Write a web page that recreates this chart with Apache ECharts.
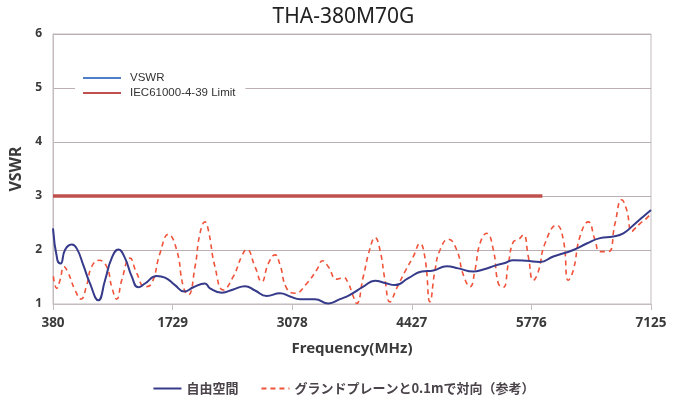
<!DOCTYPE html>
<html><head><meta charset="utf-8">
<script src="https://cdn.jsdelivr.net/npm/echarts@6/dist/echarts.min.js"></script>
<style>html,body{margin:0;padding:0;background:#fff}#c{width:687px;height:406px}</style>
</head><body><div id="c"></div>
<script>
var xTicks = [380, 1729, 3078, 4427, 5776, 7125];
var freeFreq = [380,430,467,515,591,647,722,797,891,967,1042,1117,1192,1268,1342,1418,1550,1643,1756,1861,1963,2094,2151,2283,2414,2546,2659,2790,2941,3053,3166,3335,3485,3617,3730,3880,4012,4125,4238,4388,4539,4670,4821,4952,5121,5233,5384,5479,5572,5723,5873,6023,6249,6399,6550,6700,6813,6926,7039,7125];
var freeVswr = [2.40,1.81,1.75,2.00,2.10,2.03,1.72,1.38,1.07,1.44,1.85,2.01,1.85,1.51,1.31,1.38,1.52,1.49,1.35,1.23,1.31,1.38,1.29,1.21,1.27,1.33,1.25,1.15,1.20,1.14,1.09,1.09,1.01,1.09,1.17,1.32,1.43,1.39,1.35,1.48,1.60,1.62,1.70,1.66,1.60,1.64,1.72,1.76,1.81,1.80,1.78,1.88,2.00,2.12,2.22,2.25,2.31,2.46,2.62,2.74];
var gpFreq = [384,422,459,504,553,628,696,760,816,899,986,1042,1099,1155,1249,1324,1418,1493,1587,1681,1775,1850,1906,1982,2038,2094,2132,2207,2301,2414,2508,2565,2659,2734,2809,2884,2941,3016,3110,3242,3354,3422,3485,3580,3655,3711,3767,3805,3880,3956,4012,4068,4125,4181,4256,4350,4444,4519,4576,4632,4689,4745,4839,4934,5008,5084,5140,5196,5272,5347,5403,5459,5516,5572,5628,5685,5741,5798,5854,5929,6061,6136,6192,6249,6324,6418,6493,6550,6644,6719,6794,6851,6907,6945,7001,7077,7125];
var gpVswr = [1.51,1.29,1.44,1.69,1.57,1.26,1.09,1.35,1.69,1.81,1.69,1.32,1.09,1.44,1.85,1.57,1.32,1.38,1.94,2.29,2.00,1.32,1.17,1.69,2.31,2.52,2.37,1.69,1.26,1.51,1.88,2.01,1.69,1.41,1.75,1.91,1.72,1.29,1.20,1.38,1.63,1.80,1.69,1.46,1.49,1.38,1.14,1.01,1.51,2.03,2.23,2.00,1.44,1.04,1.29,1.60,1.88,2.12,1.85,1.04,1.63,2.00,2.20,2.00,1.54,1.32,1.63,2.12,2.31,2.00,1.38,1.31,1.75,2.15,2.19,2.28,1.88,1.44,1.60,2.12,2.46,2.19,1.44,1.63,2.25,2.52,2.19,1.97,1.97,2.49,2.93,2.74,2.34,2.40,2.49,2.59,2.68];
var limitFreq = [380, 5900];
var limitVswr = [3, 3];

function pairs(a, b) { return a.map(function (v, i) { return [v, b[i]]; }); }

var chart = echarts.init(document.getElementById('c'), null, {renderer: 'canvas'});
chart.setOption({
  animation: false,
  backgroundColor: '#ffffff',
  title: {
    text: 'THA-380M70G', left: 'center', top: 2,
    textStyle: {fontFamily: 'Noto Sans', fontSize: 21, fontWeight: 'normal', color: '#222'}
  },
  grid: {left: 53, right: 36, top: 34, bottom: 102, show: true, borderColor: '#c4bcc0', borderWidth: 1},
  legend: [{
    data: ['VSWR', 'IEC61000-4-39 Limit'],
    orient: 'vertical', left: 75, top: 67,
    padding: [5, 10, 5, 7], itemGap: 3, itemWidth: 38, itemHeight: 14,
    backgroundColor: '#ffffff',
    itemStyle: {opacity: 0},
    textStyle: {fontFamily: 'Liberation Sans', fontSize: 11.5, color: '#333', padding: [0, 0, 0, 4]}
  }, {
    data: ['自由空間', 'グランドプレーンと0.1mで対向（参考）'],
    left: 'center', top: 377, itemGap: 22, itemWidth: 28, itemHeight: 14,
    itemStyle: {opacity: 0},
    textStyle: {fontFamily: 'Noto Sans CJK JP', fontSize: 13, fontWeight: 'bold', color: '#4a434a'}
  }],
  xAxis: {
    type: 'value', min: 380, max: 7125, interval: 1349,
    name: 'Frequency(MHz)', nameLocation: 'middle', nameGap: 37,
    nameTextStyle: {fontFamily: 'Noto Sans', fontSize: 15, fontWeight: 'bold', color: '#3a3a3a'},
    axisLine: {show: true, lineStyle: {color: '#c4bcc0'}},
    axisTick: {show: true, length: 6, lineStyle: {color: '#c4bcc0'}, customValues: xTicks},
    axisLabel: {customValues: xTicks, margin: 12, fontFamily: 'Noto Sans', fontSize: 13.5, fontWeight: 'bold', color: '#3a3a3a',
      formatter: function (v) { return String(v); }},
    splitLine: {show: false}
  },
  yAxis: {
    type: 'value', min: 1, max: 6, interval: 1,
    name: 'VSWR', nameLocation: 'middle', nameGap: 27, nameRotate: 90,
    nameTextStyle: {fontFamily: 'Noto Sans', fontSize: 16, fontWeight: 'bold', color: '#3a3a3a'},
    axisLine: {show: true, lineStyle: {color: '#c4bcc0'}},
    axisTick: {show: false},
    axisLabel: {margin: 11, fontFamily: 'Noto Sans', fontSize: 12, fontWeight: 'bold', color: '#3a3a3a'},
    splitLine: {show: true, lineStyle: {color: '#bcaeb5', width: 1}}
  },
  series: [{
    name: 'VSWR', type: 'line', data: [], symbol: 'none',
    itemStyle: {color: '#4f7fc9'}, lineStyle: {color: '#4f7fc9', width: 2}
  }, {
    name: 'IEC61000-4-39 Limit', type: 'line', data: pairs(limitFreq, limitVswr), symbol: 'none',
    itemStyle: {color: '#c0504d'}, lineStyle: {color: '#c0504d', width: 3.5}, z: 3
  }, {
    name: 'グランドプレーンと0.1mで対向（参考）', type: 'line', data: pairs(gpFreq, gpVswr), symbol: 'none', smooth: 0.5,
    itemStyle: {color: '#f0533a'}, lineStyle: {color: '#f0533a', width: 1.6, type: [5, 4]}, z: 4
  }, {
    name: '自由空間', type: 'line', data: pairs(freeFreq, freeVswr), symbol: 'none', smooth: 0.5,
    itemStyle: {color: '#363a8a'}, lineStyle: {color: '#363a8a', width: 2}, z: 5
  }]
});
</script></body></html>
